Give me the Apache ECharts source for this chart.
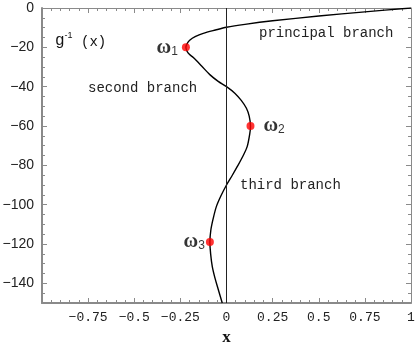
<!DOCTYPE html>
<html>
<head>
<meta charset="utf-8">
<script src="https://cdn.jsdelivr.net/npm/echarts@6/dist/echarts.min.js"></script>
<style>html,body{margin:0;padding:0;background:#fff}#c{width:415px;height:345px}</style>
</head>
<body>
<div id="c"></div>
<script>
// ---- data ----
const xTicks = [-1, -0.75, -0.5, -0.25, 0, 0.25, 0.5, 0.75, 1];
const xLabelValues = [-0.75, -0.5, -0.25, 0, 0.25, 0.5, 0.75, 1];
const yTicks = [0, -20, -40, -60, -80, -100, -120, -140];
const curveX = [1, 0.75, 0.5, 0.25, 0.1, 0, -0.06, -0.126, -0.17, -0.198, -0.214, -0.22, -0.214, -0.2, -0.18, -0.135, -0.089, -0.045, 0, 0.045, 0.08, 0.108, 0.123, 0.13, 0.126, 0.112, 0.088, 0.058, 0.03, 0, -0.03, -0.055, -0.072, -0.085, -0.09, -0.086, -0.077, -0.062, -0.045, -0.023];
const curveY = [0, -1.95, -4.1, -6.5, -8.3, -9.8, -11.2, -12.9, -14.6, -16.3, -18.2, -20, -22, -23.7, -25.2, -29.5, -34, -37.3, -40, -43.3, -47, -51, -55, -60, -64, -70.5, -75.5, -80.7, -85.3, -90, -95.5, -101, -107, -113, -119, -125, -131.5, -137.5, -143, -150];
const omegaX = [-0.22, 0.13, -0.09];
const omegaY = [-20, -60, -119];
const omegaSub = ['1', '2', '3'];
const zeroLineX = [0];
const branchLabels = ['principal branch', 'second branch', 'third branch'];

// ---- chart ----
const chart = echarts.init(document.getElementById('c'), null, {renderer: 'canvas'});
const fmt = v => String(v).replace('-', '\u2212');
const minorX = []; for (let i = -20; i <= 20; i++) minorX.push(i / 20);
const minorY = []; for (let i = 0; i >= -150; i -= 5) minorY.push(i);
const gray = '#8a8a8a';
const mono = 'Liberation Mono';
const omegaPos = ['left', 'right', 'left'];
const omegaDist = [4, 9, 1];

function axisX(pos, major, showLine, lineW, extra) {
  return Object.assign({type: 'value', position: pos, min: -1, max: 1,
    axisLine: {show: showLine, onZero: false, lineStyle: {color: gray, width: lineW}},
    axisTick: {show: true, inside: true, length: major ? 5 : 3, customValues: major ? xTicks : minorX, lineStyle: {color: gray}},
    axisLabel: {show: false}, splitLine: {show: false}}, extra || {});
}
function axisY(pos, major, showLine, lineW, extra) {
  return Object.assign({type: 'value', position: pos, min: -150, max: 0,
    axisLine: {show: showLine, onZero: false, lineStyle: {color: gray, width: lineW}},
    axisTick: {show: true, inside: true, length: major ? 5 : 3, customValues: major ? yTicks : minorY, lineStyle: {color: gray}},
    axisLabel: {show: false}, splitLine: {show: false}}, extra || {});
}

const option = {
  animation: false,
  backgroundColor: '#fff',
  grid: {left: 42, top: 8, right: 4, bottom: 42, containLabel: false, outerBoundsMode: 'none'},
  xAxis: [
    axisX('bottom', true, true, 2, {
      axisLabel: {show: true, customValues: xLabelValues, formatter: fmt, fontFamily: mono, fontSize: 13, color: '#222', margin: 8},
      name: 'x', nameLocation: 'middle', nameGap: 22,
      nameTextStyle: {fontFamily: 'Liberation Serif', fontWeight: 'bold', fontSize: 17, color: '#111'}}),
    axisX('bottom', false, false, 1),
    axisX('top', true, true, 1),
    axisX('top', false, false, 1)
  ],
  yAxis: [
    axisY('left', true, true, 2, {
      axisLabel: {show: true, customValues: yTicks, formatter: fmt, fontFamily: 'Liberation Sans', fontSize: 14, color: '#222', margin: 8}}),
    axisY('left', false, false, 1),
    axisY('right', true, true, 1),
    axisY('right', false, false, 1)
  ],
  series: [
    {type: 'line', xAxisIndex: 0, yAxisIndex: 0, smooth: 0.3, showSymbol: false, symbol: 'none',
     lineStyle: {color: '#000', width: 1.4},
     data: curveX.map((x, i) => [x, curveY[i]]),
     markLine: {silent: true, symbol: 'none', label: {show: false},
       lineStyle: {color: '#222', width: 1, type: 'solid'},
       data: zeroLineX.map(v => ({xAxis: v}))}},
    {type: 'scatter', xAxisIndex: 0, yAxisIndex: 0, symbolSize: 8, z: 5,
     itemStyle: {color: '#ff0000'},
     data: omegaX.map((x, i) => ({value: [x, omegaY[i]],
       label: {show: true, position: omegaPos[i], distance: omegaDist[i],
         formatter: '{w|\u03c9}{s|' + omegaSub[i] + '}',
         rich: {
           w: {fontFamily: 'Liberation Serif', fontSize: 20, fontWeight: 'bold', color: '#000', lineHeight: 20, verticalAlign: 'top'},
           s: {fontFamily: 'Liberation Sans', fontSize: 12, color: '#000', lineHeight: 12, padding: [14, 0, 0, 0], verticalAlign: 'bottom'}
         }}}))}
  ],
  graphic: [
    {type: 'text', left: 259, top: 26, style: {text: branchLabels[0], font: '14px "Liberation Mono"', fill: '#222'}},
    {type: 'text', left: 88, top: 81, style: {text: branchLabels[1], font: '14px "Liberation Mono"', fill: '#222'}},
    {type: 'text', left: 240, top: 178, style: {text: branchLabels[2], font: '14px "Liberation Mono"', fill: '#222'}},
    {type: 'text', left: 55, top: 27, style: {
      text: '{g|g}{p|-1}{n| (x)}',
      rich: {
        g: {fontFamily: 'Liberation Mono', fontSize: 16, fill: '#111', lineHeight: 18, verticalAlign: 'bottom', padding: [6,0,0,0]},
        p: {fontFamily: 'Liberation Sans', fontSize: 9, fill: '#111', lineHeight: 10, verticalAlign: 'top'},
        n: {fontFamily: 'Liberation Mono', fontSize: 14, fill: '#111', lineHeight: 18, verticalAlign: 'bottom', padding: [6,0,0,0]}
      }}}
  ]
};
chart.setOption(option);
</script>
</body>
</html>
